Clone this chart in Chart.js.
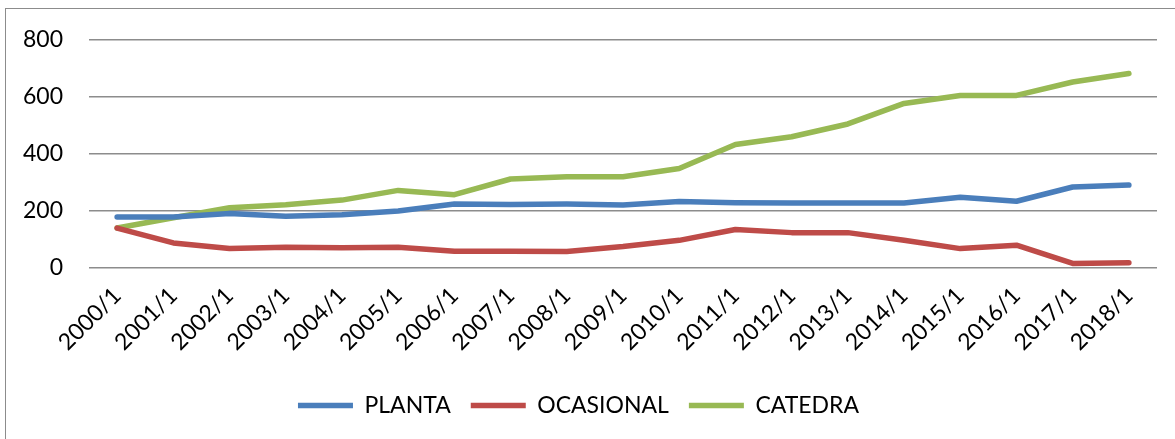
<!DOCTYPE html>
<html>
<head>
<meta charset="utf-8">
<script src="https://cdn.jsdelivr.net/npm/chart.js@4"></script>
<style>
  html, body { margin: 0; padding: 0; background: #fff; }
  #frame { position: absolute; left: 5px; top: 8px; width: 1180px; height: 440px; border: 1.5px solid #8c8c8c; box-sizing: border-box; }
  #wrap { position: absolute; left: 0; top: 0; width: 1175px; height: 439px; }
</style>
</head>
<body>
<div id="frame"></div>
<div id="wrap"><canvas id="lineChart"></canvas></div>
<script>
const years = ["2000/1","2001/1","2002/1","2003/1","2004/1","2005/1","2006/1","2007/1","2008/1","2009/1",
               "2010/1","2011/1","2012/1","2013/1","2014/1","2015/1","2016/1","2017/1","2018/1"];
const planta    = [179, 179, 191, 181, 187, 200, 224, 223, 224, 221, 233, 229, 228, 228, 228, 248, 234, 284, 291];
const ocasional = [140,  88,  68,  73,  71,  73,  59,  59,  58,  75,  97, 135, 124, 124,  97,  68,  80,  16,  18];
const catedra   = [140, 176, 211, 222, 238, 272, 257, 312, 320, 320, 349, 433, 460, 505, 577, 605, 605, 652, 682];
const yTicks = [0, 200, 400, 600, 800];

const font = "Lato, 'Open Sans', sans-serif";

function series(label, data, color){
  return {
    label: label,
    data: data,
    borderColor: color,
    backgroundColor: color,
    borderWidth: 5.5,
    borderCapStyle: 'round',
    borderJoinStyle: 'round',
    pointRadius: 0,
    tension: 0
  }
}

var ctx = document.getElementById("lineChart").getContext('2d');
var myLineChart = new Chart(ctx, {
  type: 'line',
  data: {
    labels: years,
    datasets: [
      series("PLANTA", planta, "#4A7EBB"),
      series("OCASIONAL", ocasional, "#BE4B48"),
      series("CATEDRA", catedra, "#98B954")
    ]
  },
  options: {
    responsive: true,
    maintainAspectRatio: false,
    animation: false,
    layout: { padding: { left: 0, right: 18, top: 26, bottom: 12 } },
    plugins: {
      tooltip: { enabled: false },
      legend: {
        position: 'bottom',
        labels: {
          usePointStyle: true,
          pointStyle: 'line',
          pointStyleWidth: 55,
          boxHeight: 6,
          padding: 20,
          color: '#000',
          font: { family: font, size: 23 }
        }
      }
    },
    scales: {
      x: {
        offset: true,
        grid: { display: false },
        border: { display: false },
        ticks: {
          color: '#000',
          minRotation: 45,
          maxRotation: 45,
          autoSkip: false,
          padding: 6,
          font: { family: font, size: 23 }
        },
        afterFit: function(scale){ scale.height = 106; }
      },
      y: {
        min: 0,
        max: 800,
        afterBuildTicks: function(scale){ scale.ticks = yTicks.map(v => ({ value: v })); },
        grid: { color: '#8c8c8c', lineWidth: 1.5, drawTicks: false },
        border: { display: false },
        ticks: {
          color: '#000',
          padding: 26,
          font: { family: font, size: 23 }
        },
        afterFit: function(scale){ scale.width = 89; }
      }
    }
  }
});
</script>
</body>
</html>
